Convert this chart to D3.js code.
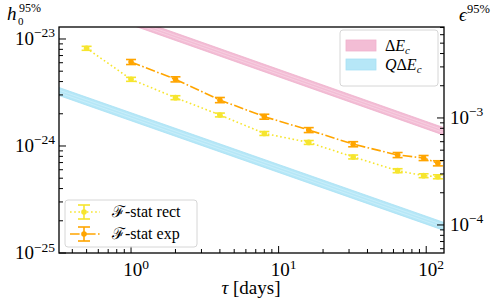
<!DOCTYPE html>
<html><head><meta charset="utf-8">
<script src="https://cdn.jsdelivr.net/npm/d3@7"></script>
<style>
body{margin:0;background:#fff}
svg{display:block}
text{font-family:"Liberation Serif","DejaVu Serif",serif;fill:#000}
</style>
</head><body>
<svg id="c" width="494" height="305"></svg>
<script>
// ---------------- data ----------------
const tauRect = [0.5, 1, 2, 4, 8, 16, 32, 64, 96, 120];
const h0Rect  = [8.19e-24, 4.2e-24, 2.83e-24, 1.95e-24, 1.31e-24, 1.08e-24, 7.9e-25, 5.88e-25, 5.28e-25, 5.16e-25];
const errRect = [0.35e-24, 0.18e-24, 0.12e-24, 0.08e-24, 0.055e-24, 0.045e-24, 0.033e-24, 0.025e-24, 0.022e-24, 0.022e-24];

const tauExp = [1, 2, 4, 8, 16, 32, 64, 96, 120];
const h0Exp  = [6.1e-24, 4.2e-24, 2.69e-24, 1.88e-24, 1.41e-24, 1.04e-24, 8.24e-25, 7.73e-25, 6.9e-25];
const errExp = [0.33e-24, 0.23e-24, 0.15e-24, 0.10e-24, 0.075e-24, 0.057e-24, 0.045e-24, 0.042e-24, 0.038e-24];

const bandTau  = [0.3, 140];
const dEcLow   = [2.44e-23, 1.225e-24];
const dEcHigh  = [2.87e-23, 1.44e-24];
const qdEcLow  = [3.08e-24, 1.58e-25];
const qdEcHigh = [3.66e-24, 1.875e-25];

const xTickVals = [1, 10, 100];
const xTickExp  = ["0", "1", "2"];
const yTickVals = [1e-25, 1e-24, 1e-23];
const yTickExp  = ["\u221225", "\u221224", "\u221223"];
const yRTickVals = [1e-4, 1e-3];
const yRTickExp  = ["\u22124", "\u22123"];

const legendTop = ["\u0394E", "Q\u0394E"];
const legendBottom = ["\u2131-stat rect", "\u2131-stat exp"];

// ---------------- layout ----------------
const L = 59, R = 444, T = 27, B = 253;
const epsFactor = Math.pow(10, 20.738);
const FS = 19, FSS = 13.5, FL = 16;

const svg = d3.select("#c");
const x = d3.scaleLog().domain([0.325, 132]).range([L, R]);
const y = d3.scaleLog().domain([1e-25, Math.pow(10, -22.888)]).range([B, T]);
const yR = d3.scaleLog().domain(y.domain().map(v => v * epsFactor)).range([B, T]);

const colRect = "#f6e52e", colExp = "#ffa500";
const pinkFill = "#f3bdd5", blueFill = "#b6e7f7";

svg.append("defs").append("clipPath").attr("id", "clip")
  .append("rect").attr("x", L).attr("y", T).attr("width", R - L).attr("height", B - T);

const plot = svg.append("g").attr("clip-path", "url(#clip)");

function band(low, high, fill, edge, mid) {
  const d = bandTau.map((t, i) => ({t, lo: low[i], hi: high[i]}));
  plot.append("path").datum(d)
    .attr("d", d3.area().x(p => x(p.t)).y0(p => y(p.lo)).y1(p => y(p.hi)))
    .attr("fill", fill);
  [p => p.lo, p => p.hi].forEach(acc => {
    plot.append("path").datum(d).attr("d", d3.line().x(p => x(p.t)).y(p => y(acc(p))))
      .attr("fill", "none").attr("stroke", edge).attr("stroke-width", 0.8);
  });
  [1/3, 2/3].forEach(f => {
    plot.append("path").datum(d)
      .attr("d", d3.line().x(p => x(p.t)).y(p => y(p.lo) + (y(p.hi) - y(p.lo)) * f))
      .attr("fill", "none").attr("stroke", mid).attr("stroke-width", 0.7);
  });
}
band(dEcLow, dEcHigh, pinkFill, "#eeb0cb", "#f8d5e5");
band(qdEcLow, qdEcHigh, blueFill, "#a8e1f4", "#d0f1fb");

function series(taus, vals, errs, color, dash) {
  const d = taus.map((t, i) => ({t, v: vals[i], e: errs[i]}));
  plot.append("path").datum(d)
    .attr("d", d3.line().x(p => x(p.t)).y(p => y(p.v)))
    .attr("fill", "none").attr("stroke", color).attr("stroke-width", 1.6)
    .attr("stroke-dasharray", dash);
  const g = plot.append("g").attr("stroke", color).attr("stroke-width", 1.6);
  d.forEach(p => {
    const cx = x(p.t), y0 = y(p.v - p.e), y1 = y(p.v + p.e);
    g.append("line").attr("x1", cx).attr("x2", cx).attr("y1", y0).attr("y2", y1);
    g.append("line").attr("x1", cx - 5).attr("x2", cx + 5).attr("y1", y0).attr("y2", y0);
    g.append("line").attr("x1", cx - 5).attr("x2", cx + 5).attr("y1", y1).attr("y2", y1);
    plot.append("circle").attr("cx", cx).attr("cy", y(p.v)).attr("r", 2.8).attr("fill", color);
  });
}
series(tauRect, h0Rect, errRect, colRect, "1.6,2.6");
series(tauExp, h0Exp, errExp, colExp, "9.6,2.4,1.6,2.4");

// ---------------- axes ----------------
const ax = svg.append("g").attr("stroke", "#000");
function minorList(lo, hi) {
  const out = [];
  for (let e = Math.floor(Math.log10(lo)) - 1; e <= Math.ceil(Math.log10(hi)); e++)
    for (let m = 1; m < 10; m++) {
      const v = m * Math.pow(10, e);
      if (v >= lo * 0.9999 && v <= hi * 1.0001) out.push({v, major: m === 1});
    }
  return out;
}
minorList(x.domain()[0], x.domain()[1]).forEach(t => {
  const px = x(t.v), len = t.major ? 7 : 4;
  ax.append("line").attr("x1", px).attr("x2", px).attr("y1", B).attr("y2", B - len).attr("stroke-width", 1);
});
minorList(y.domain()[0], y.domain()[1]).forEach(t => {
  const py = y(t.v), len = t.major ? 7 : 4;
  ax.append("line").attr("x1", L).attr("x2", L + len).attr("y1", py).attr("y2", py).attr("stroke-width", 1);
});
minorList(yR.domain()[0], yR.domain()[1]).forEach(t => {
  const py = yR(t.v), len = t.major ? 7 : 4;
  ax.append("line").attr("x1", R).attr("x2", R - len).attr("y1", py).attr("y2", py).attr("stroke-width", 1);
});
svg.append("rect").attr("x", L).attr("y", T).attr("width", R - L).attr("height", B - T)
  .attr("fill", "none").attr("stroke", "#000").attr("stroke-width", 1.3);

function powLabel(px, py, exp, anchor) {
  const t = svg.append("text").attr("x", px).attr("y", py).attr("text-anchor", anchor).style("font-size", FS + "px");
  t.append("tspan").text("10");
  t.append("tspan").attr("dy", -7.5).style("font-size", FSS + "px").text(exp);
}
xTickVals.forEach((v, i) => powLabel(x(v) + 5, 276, xTickExp[i], "middle"));
yTickVals.forEach((v, i) => powLabel(55, y(v) + 6, yTickExp[i], "end"));
yRTickVals.forEach((v, i) => powLabel(450, yR(v) + 6, yRTickExp[i], "start"));

// axis titles
const xt = svg.append("text").attr("x", 251).attr("y", 294).attr("text-anchor", "middle").style("font-size", FS + "px");
xt.append("tspan").style("font-style", "italic").text("\u03c4");
xt.append("tspan").text(" [days]");

svg.append("text").attr("x", 7).attr("y", 20).style("font-size", FS + "px").style("font-style", "italic").text("h");
svg.append("text").attr("x", 18).attr("y", 24.5).style("font-size", "11px").text("0");
svg.append("text").attr("x", 19).attr("y", 11.5).style("font-size", "12px").text("95%");
svg.append("text").attr("x", 459).attr("y", 21).style("font-size", FS + "px").style("font-style", "italic").text("\u03f5");
svg.append("text").attr("x", 467).attr("y", 13).style("font-size", "12.5px").text("95%");

// ---------------- legends ----------------
const lg1 = svg.append("g");
lg1.append("rect").attr("x", 340).attr("y", 30).attr("width", 98).attr("height", 56).attr("rx", 3)
  .attr("fill", "#fff").attr("fill-opacity", 0.85).attr("stroke", "#d6d6d6").attr("stroke-width", 1);
[[pinkFill, "#efb1cc"], [blueFill, "#a9e2f4"]].forEach((c, i) => {
  const yy = 40 + i * 19;
  lg1.append("rect").attr("x", 346).attr("y", yy).attr("width", 30).attr("height", 11)
    .attr("fill", c[0]).attr("stroke", c[1]).attr("stroke-width", 0.8);
  const t = lg1.append("text").attr("x", 385).attr("y", yy + 11).style("font-size", FL + "px");
  legendTop[i].split("").forEach(ch => {
    const s = t.append("tspan").text(ch);
    if (ch !== "\u0394") s.style("font-style", "italic");
  });
  t.append("tspan").attr("dy", 3).style("font-size", "11px").style("font-style", "italic").text("c");
});

const lg2 = svg.append("g");
lg2.append("rect").attr("x", 65).attr("y", 200).attr("width", 132).attr("height", 47).attr("rx", 3)
  .attr("fill", "#fff").attr("fill-opacity", 0.85).attr("stroke", "#d6d6d6").attr("stroke-width", 1);
[[colRect, "1.6,2.6"], [colExp, "9.6,2.4,1.6,2.4"]].forEach((c, i) => {
  const yy = 212 + i * 22, cx = 84;
  const g = lg2.append("g").attr("stroke", c[0]).attr("stroke-width", 1.6);
  g.append("line").attr("x1", 70).attr("x2", 100).attr("y1", yy).attr("y2", yy).attr("stroke-dasharray", c[1]);
  g.append("line").attr("x1", cx).attr("x2", cx).attr("y1", yy - 7).attr("y2", yy + 7);
  g.append("line").attr("x1", cx - 6).attr("x2", cx + 6).attr("y1", yy - 7).attr("y2", yy - 7);
  g.append("line").attr("x1", cx - 6).attr("x2", cx + 6).attr("y1", yy + 7).attr("y2", yy + 7);
  lg2.append("circle").attr("cx", cx).attr("cy", yy).attr("r", 2.8).attr("fill", c[0]);
  lg2.append("text").attr("x", 112).attr("y", yy + 5).style("font-size", FL + "px").text(legendBottom[i]);
});
</script>
</body></html>
